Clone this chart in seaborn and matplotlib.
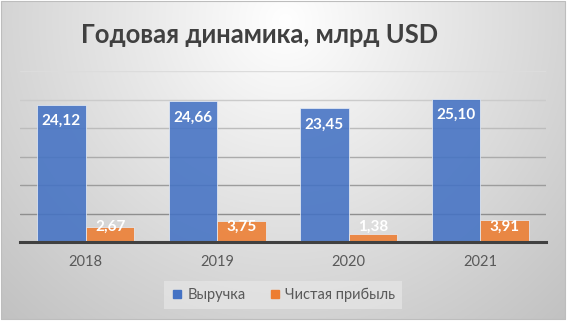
import numpy as np
import pandas as pd
import matplotlib
matplotlib.use("Agg")
import matplotlib.pyplot as plt
import seaborn as sns
from matplotlib.patches import Rectangle
from matplotlib.lines import Line2D

years = ["2018", "2019", "2020", "2021"]
revenue = [24.12, 24.66, 23.45, 25.10]
net_profit = [2.67, 3.75, 1.38, 3.91]
series_names = ["Выручка", "Чистая прибыль"]
colors = ["#4472C4", "#ED7D31"]
title = "Годовая динамика, млрд USD"

df = pd.DataFrame({
    "year": years * 2,
    "series": [series_names[0]] * len(years) + [series_names[1]] * len(years),
    "value": revenue + net_profit,
})

sns.set_theme(style="white")
plt.rcParams["font.family"] = ["Lato", "DejaVu Sans"]

W, H = 568, 324
fig = plt.figure(figsize=(W / 100, H / 100), dpi=100)
fig.patch.set_facecolor("white")

# radial gray gradient behind the chart
bg = fig.add_axes([0, 0, 1, 1], zorder=-10)
yy, xx = np.mgrid[0:H, 0:W]
d = np.hypot(xx - 285, (yy - 20) * 1.0)
shade = np.clip(255 - 62 * d / 413, 0, 255) / 255
rgb = np.dstack([shade] * 3)
outside = (xx < 1) | (xx > 565) | (yy < 1) | (yy > 319)
rgb[outside] = 1.0
bg.imshow(rgb, extent=[0, W, H, 0], aspect="auto", interpolation="bilinear")
bg.set_xlim(0, W)
bg.set_ylim(H, 0)
bg.axis("off")
bg.add_patch(Rectangle((1, 1), 564, 318, fill=False, ec="#BDBDBD", lw=0.8))

ax = fig.add_axes([20 / W, 1 - 242 / H, 526 / W, 171 / H])
ax.patch.set_alpha(0)

# horizontal gridlines, darker toward the baseline
grid_vals = [5, 10, 15, 20, 25, 30]
grid_cols = ["#8E8E8E", "#9C9C9C", "#ABABAB", "#BCBCBC", "#CBCBCB", "#DCDCDC"]
for gv, gc in zip(grid_vals, grid_cols):
    ax.axhline(gv, color=gc, lw=1.0, zorder=1)

sns.barplot(data=df, x="year", y="value", hue="series", palette=colors,
            width=0.74, saturation=1, alpha=0.88, edgecolor="#E6ECF5",
            linewidth=0.6, ax=ax, zorder=3, legend=False)

ax.set_ylim(0, 30)
ax.set_xlim(-0.5, len(years) - 0.5)
ax.set_yticks([])
ax.set_xlabel("")
ax.set_ylabel("")
for s in ["top", "right", "left"]:
    ax.spines[s].set_visible(False)
ax.spines["bottom"].set_color("#404040")
ax.spines["bottom"].set_linewidth(2.2)
ax.spines["bottom"].set_zorder(5)
ax.tick_params(axis="x", length=0, pad=9, labelsize=10.5, labelcolor="#595959")

# value labels near the top inside each bar
for container in ax.containers:
    for bar in container:
        v = bar.get_height()
        x = bar.get_x() + bar.get_width() / 2
        y = max(v - 2.84, 2.75)
        ax.text(x, y, f"{v:.2f}".replace(".", ","), ha="center", va="center",
                color="white", fontweight="bold", fontsize=11, zorder=6)

fig.text(260 / W, 1 - 35 / H, title, ha="center", va="center",
         fontsize=18.4, fontweight="bold", color="#404040")

handles = [Line2D([], [], marker="s", linestyle="none", markersize=6,
                  markerfacecolor=c, markeredgecolor=c) for c in colors]
leg = fig.legend(handles, series_names, loc="center",
                 bbox_to_anchor=(283 / W, 1 - 295 / H), ncol=2,
                 frameon=True, fontsize=10.5, handlelength=0.8,
                 handletextpad=0.3, columnspacing=1.6, borderpad=0.5)
leg.get_frame().set_facecolor("#E6E6E6")
leg.get_frame().set_edgecolor("none")
leg.get_frame().set_alpha(0.7)
leg.get_frame().set_boxstyle("square", pad=0)
for t in leg.get_texts():
    t.set_color("#595959")

fig.savefig("out.png", dpi=100)
